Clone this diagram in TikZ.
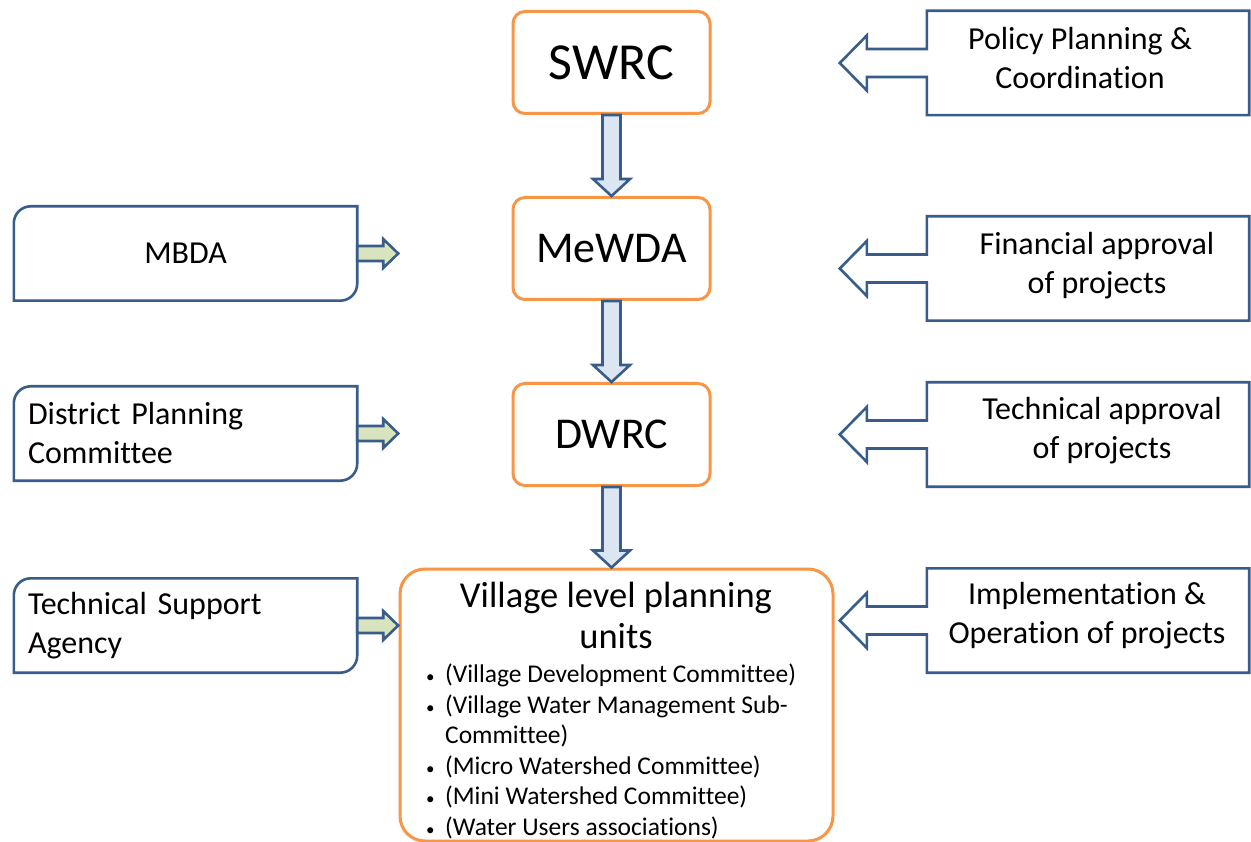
\documentclass[tikz,border=0pt]{standalone}
\usepackage{fontspec}
\setmainfont{Carlito}[Ligatures={NoCommon}]
\usetikzlibrary{calc}
\definecolor{dblue}{RGB}{56,93,138}
\definecolor{orng}{RGB}{247,150,70}
\definecolor{lblue}{RGB}{220,230,242}
\definecolor{lgreen}{RGB}{215,228,189}
\newcommand{\downblk}[2]{%
  \coordinate (#1top) at (#1.south);
  \coordinate (#1tip) at (#1.south |- #2.north);
  \draw[blueline, fill=lblue] ($(#1top)+(-9,0)$) -- ($(#1tip)+(-9,-17)$) -- ($(#1tip)+(-18.5,-17)$) -- (#1tip)
    -- ($(#1tip)+(18.5,-17)$) -- ($(#1tip)+(9,-17)$) -- ($(#1top)+(9,0)$) -- cycle;}
\newcommand{\rightblk}[1]{%
  \coordinate (#1tip) at ($(#1.east)+(41,0)$);
  \draw[blueline, fill=lgreen] ($(#1.east)+(0,-7.5)$) -- ($(#1tip)+(-15,-7.5)$) -- ($(#1tip)+(-15,-14.5)$) -- (#1tip)
    -- ($(#1tip)+(-15,14.5)$) -- ($(#1tip)+(-15,7.5)$) -- ($(#1.east)+(0,7.5)$) -- cycle;}
\newcommand{\leftshape}[1]{%
  \draw[blueline, fill=white] ($(#1.north west)+(0,17)$) .. controls ($(#1.north west)+(0,7.6)$) and ($(#1.north west)+(7.6,0)$) .. ($(#1.north west)+(17,0)$)
    -- (#1.north east) -- ($(#1.south east)+(0,-17)$) .. controls ($(#1.south east)+(0,-7.6)$) and ($(#1.south east)+(-7.6,0)$) .. ($(#1.south east)+(-17,0)$)
    -- (#1.south west) -- cycle;}
\newcommand{\calloutshape}[1]{%
  \coordinate (#1tip) at ($(#1.west)+(-87,0)$);
  \draw[blueline, fill=white] (#1.north west) -- (#1.north east) -- (#1.south east) -- (#1.south west)
    -- ($(#1.west)+(0,14)$) -- ($(#1.west)+(-60,14)$) -- ($(#1.west)+(-60,27.5)$) -- (#1tip)
    -- ($(#1.west)+(-60,-27.5)$) -- ($(#1.west)+(-60,-14)$) -- ($(#1.west)+(0,-14)$) -- cycle;}
\newcommand{\blt}{\makebox[22pt][l]{\hspace*{3pt}{\fontsize{17}{17}\selectfont •}}}
\begin{document}
\begin{tikzpicture}[x=1pt,y=-1pt,
  blueline/.style={draw=dblue, line width=2.6pt, line join=miter},
  obox/.style={draw=orng, line width=3pt, rounded corners=12pt, fill=white, minimum width=197pt, minimum height=102pt, inner sep=0pt},
  lbox/.style={draw=none, minimum width=343pt, minimum height=94pt, inner sep=0pt, font=\fontsize{32}{39}\selectfont},
  rbox/.style={draw=none, minimum width=322pt, minimum height=104pt, inner sep=0pt},
  txt/.style={font=\fontsize{32}{39}\selectfont, align=center, inner sep=0pt},
]
\useasboundingbox (0,0) rectangle (1251,842);
\fill[white] (0,0) rectangle (1251,842);

% central boxes
\node[obox, font=\fontsize{52}{60}\selectfont] (swrc) at (611.5,62.5) {SWRC};
\node[obox, font=\fontsize{44}{52}\selectfont] (mewda) at (611.5,248.5) {MeWDA};
\node[obox, font=\fontsize{44}{52}\selectfont] (dwrc) at (611.5,434.5) {DWRC};
\node[draw=orng, line width=3pt, rounded corners=25pt, minimum width=433pt, minimum height=272pt, inner sep=0pt] (vil) at (616.5,705) {};
\node[font=\fontsize{36.5}{41}\selectfont, align=center, inner sep=0pt] (viltitle) at (616,615) {Village level planning\\units};
\node[font=\fontsize{25.5}{30.5}\selectfont, align=left, inner sep=0pt, anchor=north west] (villist) at (423,664) {%
\blt(Village Development Committee)\\
\blt(Village Water Management Sub-\\
\hspace*{22pt}Committee)\\
\blt(Micro Watershed Committee)\\
\blt(Mini Watershed Committee)\\
\blt(Water Users associations)};

% down arrows
\downblk{swrc}{mewda}
\downblk{mewda}{dwrc}
\downblk{dwrc}{vil}

% left boxes
\node[lbox] (mbda) at (185.5,253.5) {};
\leftshape{mbda}
\node[lbox] (mbdat) at (mbda.center) {MBDA};
\node[lbox] (dpc) at (185.5,433.5) {};
\leftshape{dpc}
\node[lbox, text width=315pt, align=left, inner xsep=14pt] (dpct) at (dpc.center) {District Planning\\Committee};
\node[lbox] (tsa) at (185.5,625.5) {};
\leftshape{tsa}
\node[lbox, text width=315pt, align=left, inner xsep=14pt] (tsat) at (tsa.center) {Technical Support\\Agency};
\rightblk{mbda}
\rightblk{dpc}
\rightblk{tsa}

% right callouts
\node[rbox] (policy) at (1088,63) {};
\calloutshape{policy}
\node[txt] (policyt) at (1080,58) {Policy Planning \&\\Coordination};
\node[rbox] (fin) at (1088,268.5) {};
\calloutshape{fin}
\node[txt] (fint) at (1097,266) {Financial approval\\of projects};
\node[rbox] (tech) at (1088,434.5) {};
\calloutshape{tech}
\node[txt] (techt) at (1102,431) {Technical approval\\of projects};
\node[rbox] (impl) at (1088,620.5) {};
\calloutshape{impl}
\node[txt] (implt) at (1087,616) {Implementation \&\\Operation of projects};
\end{tikzpicture}
\end{document}
